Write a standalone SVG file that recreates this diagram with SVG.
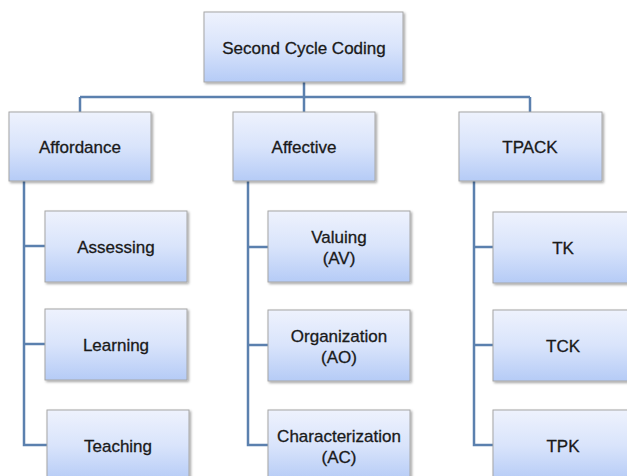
<svg xmlns="http://www.w3.org/2000/svg" width="627" height="476" viewBox="0 0 627 476">
<defs>
<linearGradient id="g" x1="0" y1="0" x2="0" y2="1">
<stop offset="0" stop-color="#eef2fd"/>
<stop offset="0.5" stop-color="#d9e4fb"/>
<stop offset="1" stop-color="#b5cbf6"/>
</linearGradient>
<filter id="sh" x="-10%" y="-10%" width="130%" height="130%">
<feDropShadow dx="1.5" dy="1.5" stdDeviation="1.2" flood-color="#000" flood-opacity="0.35"/>
</filter>
</defs>
<style>
.box{fill:url(#g);stroke:#a6a6a6;stroke-width:1;filter:url(#sh)}
.t{font-family:"Liberation Sans",Arial,sans-serif;font-size:17px;fill:#1a1a1a;stroke:#1a1a1a;stroke-width:0.3;text-anchor:middle}
.c{fill:none;stroke:#5b80ae;stroke-width:2.5}
</style>
<rect width="627" height="476" fill="#fff"/>
<g id="connectors">
<path class="c" d="M304 82V112M80 97H530M80 97V112M530 97V112"/>
<path class="c" d="M24 181V445H47M24 246H45M24 344H45"/>
<path class="c" d="M248 181V445H268M248 247H268M248 345H268"/>
<path class="c" d="M474 181V445H493M474 247H493M474 345H493"/>
</g>
<g id="root"><rect class="box" x="204" y="12" width="199" height="70"/><text class="t" x="304" y="54">Second Cycle Coding</text></g>
<g id="affordance"><rect class="box" x="9" y="112" width="142" height="69"/><text class="t" x="80" y="153">Affordance</text></g>
<g id="affective"><rect class="box" x="233" y="112" width="142" height="69"/><text class="t" x="304" y="153">Affective</text></g>
<g id="tpack"><rect class="box" x="459" y="112" width="143" height="69"/><text class="t" x="530" y="153">TPACK</text></g>
<g id="assessing"><rect class="box" x="45" y="211" width="142" height="71"/><text class="t" x="116" y="253">Assessing</text></g>
<g id="learning"><rect class="box" x="45" y="309" width="142" height="71"/><text class="t" x="116" y="351">Learning</text></g>
<g id="teaching"><rect class="box" x="47" y="410" width="142" height="71"/><text class="t" x="118" y="452">Teaching</text></g>
<g id="valuing"><rect class="box" x="268" y="211" width="142" height="71"/><text class="t" x="339" y="243">Valuing</text><text class="t" x="339" y="264">(AV)</text></g>
<g id="organization"><rect class="box" x="268" y="310" width="142" height="71"/><text class="t" x="339" y="342">Organization</text><text class="t" x="339" y="363">(AO)</text></g>
<g id="characterization"><rect class="box" x="268" y="410" width="142" height="71"/><text class="t" x="339" y="442">Characterization</text><text class="t" x="339" y="463">(AC)</text></g>
<g id="tk"><rect class="box" x="493" y="212" width="142" height="71"/><text class="t" x="563" y="254">TK</text></g>
<g id="tck"><rect class="box" x="493" y="310" width="142" height="71"/><text class="t" x="563" y="352">TCK</text></g>
<g id="tpk"><rect class="box" x="493" y="410" width="142" height="71"/><text class="t" x="563" y="452">TPK</text></g>
</svg>
